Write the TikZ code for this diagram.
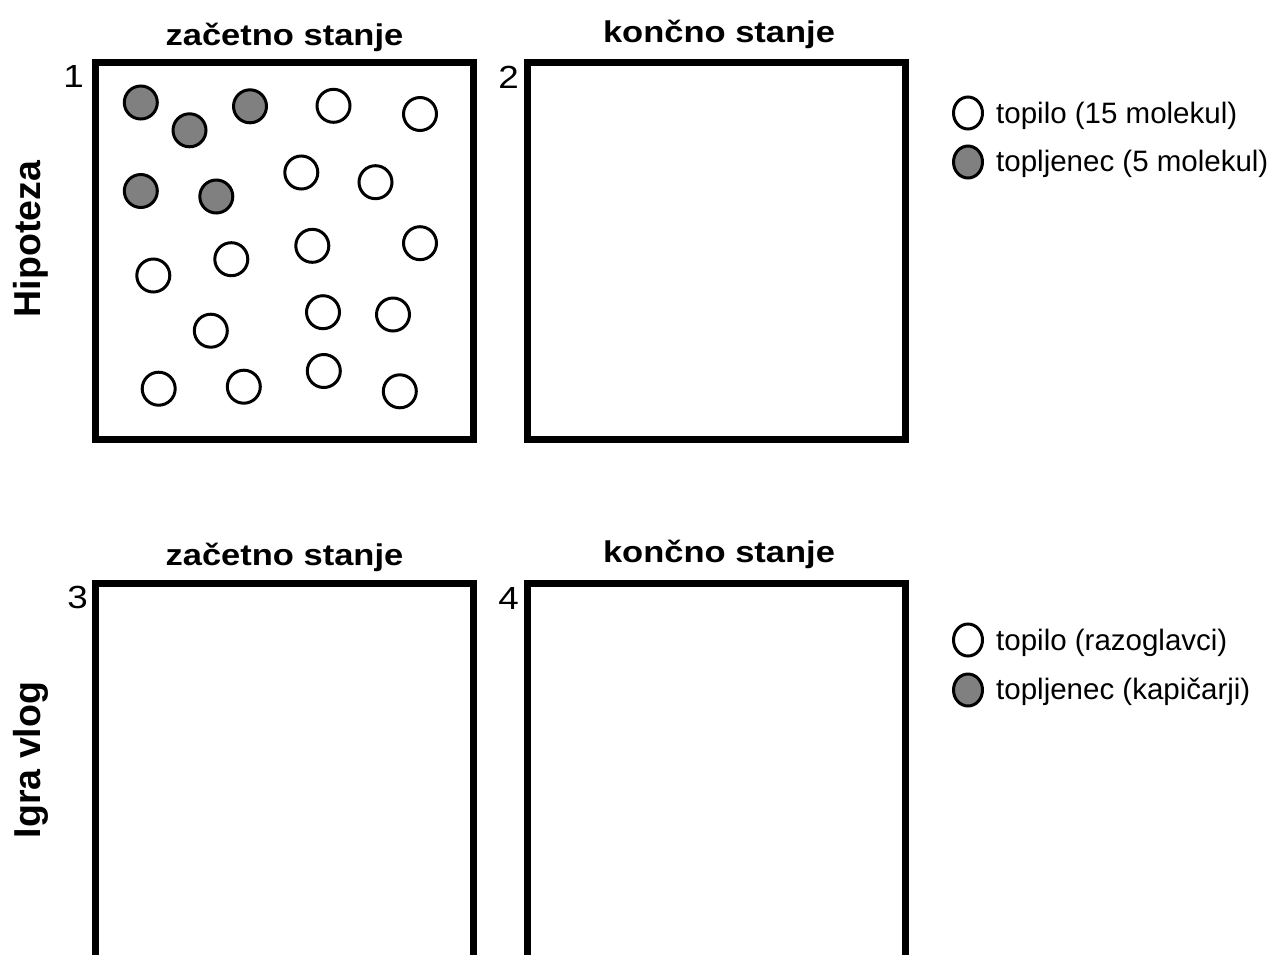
\documentclass[tikz,border=0pt]{standalone}
\usepackage{fontspec}
\setmainfont{Liberation Sans}
\usetikzlibrary{shapes.geometric}

\begin{document}
\begin{tikzpicture}[x=1pt, y=-1pt,
  panel/.style={draw, line width=7pt, inner sep=0pt, minimum width=378pt},
  paneltitle/.style={anchor=base, inner sep=0pt, font=\fontsize{30}{34}\selectfont\bfseries},
  rowlabel/.style={anchor=base, inner sep=0pt, rotate=90, font=\fontsize{37.5}{40}\selectfont\bfseries},
  num/.style={anchor=base east, inner sep=0pt, font=\fontsize{32}{34}\selectfont},
  solvent/.style={draw, circle, line width=3pt, minimum size=33pt, inner sep=0pt, fill=white},
  solute/.style={solvent, fill=gray},
  legsolvent/.style={draw, ellipse, line width=3pt, minimum width=29pt, minimum height=32pt, inner sep=0pt, fill=white},
  legsolute/.style={legsolvent, fill=gray},
  legtext/.style={anchor=base west, inner sep=0pt, font=\fontsize{29.5}{32}\selectfont}]
\path[use as bounding box] (0,0) rectangle (1274,954);
\clip (0,0) rectangle (1274,954);

% panels
\node[panel, minimum height=377pt] (box1) at (284.5,251) {};
\node[panel, minimum height=377pt] (box2) at (716.5,251) {};
\node[panel, minimum height=440pt] (box3) at (284.5,803) {};
\node[panel, minimum height=440pt] (box4) at (716.5,803) {};

\node[paneltitle] (t1) at (284.5,45) {\scalebox{1.15}[1]{začetno stanje}};
\node[paneltitle] (t2) at (719,42) {\scalebox{1.15}[1]{končno stanje}};
\node[paneltitle] (t3) at (284.5,565) {\scalebox{1.15}[1]{začetno stanje}};
\node[paneltitle] (t4) at (719,562) {\scalebox{1.15}[1]{končno stanje}};

\node[num] (n1) at (84,87) {\scalebox{1.15}[1]{1}};
\node[num] (n2) at (519,88) {\scalebox{1.15}[1]{2}};
\node[num] (n3) at (88,608) {\scalebox{1.15}[1]{3}};
\node[num] (n4) at (519,609) {\scalebox{1.15}[1]{4}};

\node[rowlabel] (hyp) at (40,239) {Hipoteza};
\node[rowlabel] (role) at (40,760) {Igra vlog};

% molecules, start state
\node[solute] (m1) at (140.8,102.5) {};
\node[solute] (m2) at (189.5,130.3) {};
\node[solute] (m3) at (250,106.3) {};
\node[solute] (m4) at (140.8,191) {};
\node[solute] (m5) at (216.3,196.5) {};
\node[solvent] (m6) at (333.5,105.8) {};
\node[solvent] (m7) at (420,114) {};
\node[solvent] (m8) at (301.3,172.5) {};
\node[solvent] (m9) at (375.5,182.2) {};
\node[solvent] (m10) at (153.3,275.5) {};
\node[solvent] (m11) at (231.3,259.2) {};
\node[solvent] (m12) at (312.3,245.8) {};
\node[solvent] (m13) at (420,243.2) {};
\node[solvent] (m14) at (210.8,330.7) {};
\node[solvent] (m15) at (323,312.2) {};
\node[solvent] (m16) at (393,314.5) {};
\node[solvent] (m17) at (158.7,388.7) {};
\node[solvent] (m18) at (243.8,386.7) {};
\node[solvent] (m19) at (323.8,371) {};
\node[solvent] (m20) at (399.8,391.3) {};

% legends
\node[legsolvent] (l1) at (968,113) {};
\node[legtext] (lt1) at (996,123.5) {topilo (15 molekul)};
\node[legsolute] (l2) at (968,162) {};
\node[legtext] (lt2) at (996,171.5) {topljenec (5 molekul)};
\node[legsolvent] (l3) at (968,640) {};
\node[legtext] (lt3) at (996,650) {topilo (razoglavci)};
\node[legsolute] (l4) at (968,690) {};
\node[legtext] (lt4) at (996,699) {topljenec (kapičarji)};
\end{tikzpicture}
\end{document}
